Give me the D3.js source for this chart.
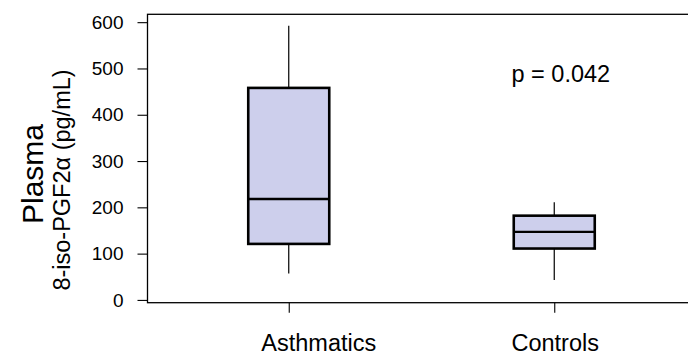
<!DOCTYPE html>
<html>
<head>
<meta charset="utf-8">
<script src="https://cdn.jsdelivr.net/npm/d3@7"></script>
<style>
html,body{margin:0;padding:0;background:#fff;}
svg{display:block;font-family:"Liberation Sans",Arial,Helvetica,sans-serif;}
</style>
</head>
<body>
<svg id="chart" width="688" height="356"></svg>
<script>
// ---- data ----
const categories = ["Asthmatics", "Controls"];
const whiskerLow  = [57, 43];
const q1          = [121, 111];
const medians     = [218, 147];
const q3          = [458, 182];
const whiskerHigh = [592, 211];
const yTicks = [0, 100, 200, 300, 400, 500, 600];
const annotation = "p = 0.042";

// ---- layout ----
const svg = d3.select("#chart");
const frame = {left: 147.5, right: 695.5, top: 14.3, bottom: 302.7};

const x = d3.scalePoint().domain(categories).range([frame.left, frame.right]).padding(0.532);
const y = d3.scaleLinear().domain([-6, 617]).range([frame.bottom, frame.top]);
const boxW = 81;
const fill = "#cdcfec";

// frame
svg.append("rect")
  .attr("x", frame.left).attr("y", frame.top)
  .attr("width", frame.right - frame.left).attr("height", frame.bottom - frame.top)
  .attr("fill", "none").attr("stroke", "#000").attr("stroke-width", 1.3);

// y axis
const yAxis = d3.axisLeft(y).tickValues(yTicks).tickSize(10).tickPadding(14).tickFormat(d3.format("d"));
const gy = svg.append("g").attr("transform", `translate(${frame.left},0)`).call(yAxis);
gy.select(".domain").remove();
gy.selectAll(".tick line").attr("stroke", "#000").attr("stroke-width", 1.1);
gy.selectAll(".tick text").attr("font-size", 19).attr("fill", "#000")
  .attr("font-family", "'Liberation Sans',Arial,sans-serif");

// x axis ticks
const xAxis = d3.axisBottom(x).tickSize(10).tickFormat("");
const gx = svg.append("g").attr("transform", `translate(0,${frame.bottom})`).call(xAxis);
gx.select(".domain").remove();
gx.selectAll(".tick line").attr("stroke", "#000").attr("stroke-width", 1.1);

// category labels (Asthmatics sits right of its tick in the original)
const labelShift = [30, 1];
svg.selectAll("text.cat").data(categories).enter().append("text")
  .attr("class", "cat")
  .attr("x", (d, i) => x(d) + labelShift[i])
  .attr("y", 351)
  .attr("text-anchor", "middle")
  .attr("font-size", 23.5)
  .attr("fill", "#000")
  .text(d => d);

// boxes
const g = svg.selectAll("g.box").data(categories).enter().append("g").attr("class", "box");
g.append("line")
  .attr("x1", d => x(d)).attr("x2", d => x(d))
  .attr("y1", (d, i) => y(whiskerHigh[i])).attr("y2", (d, i) => y(q3[i]))
  .attr("stroke", "#000").attr("stroke-width", 1.2);
g.append("line")
  .attr("x1", d => x(d)).attr("x2", d => x(d))
  .attr("y1", (d, i) => y(q1[i])).attr("y2", (d, i) => y(whiskerLow[i]))
  .attr("stroke", "#000").attr("stroke-width", 1.2);
g.append("rect")
  .attr("x", d => x(d) - boxW / 2)
  .attr("y", (d, i) => y(q3[i]))
  .attr("width", boxW)
  .attr("height", (d, i) => y(q1[i]) - y(q3[i]))
  .attr("fill", fill).attr("stroke", "#000").attr("stroke-width", 2.6);
g.append("line")
  .attr("x1", d => x(d) - boxW / 2).attr("x2", d => x(d) + boxW / 2)
  .attr("y1", (d, i) => y(medians[i])).attr("y2", (d, i) => y(medians[i]))
  .attr("stroke", "#000").attr("stroke-width", 2.4);

// annotation
svg.append("text")
  .attr("x", 511.5).attr("y", 81.5)
  .attr("font-size", 23.5).attr("fill", "#000")
  .text(annotation);

// y titles
svg.append("text")
  .attr("transform", "translate(43,174) rotate(-90)")
  .attr("text-anchor", "middle")
  .attr("font-size", 30)
  .attr("fill", "#000")
  .text("Plasma");
svg.append("text")
  .attr("transform", "translate(70,180) rotate(-90)")
  .attr("text-anchor", "middle")
  .attr("font-size", 23.5)
  .attr("fill", "#000")
  .text("8-iso-PGF2α (pg/mL)");
</script>
</body>
</html>
